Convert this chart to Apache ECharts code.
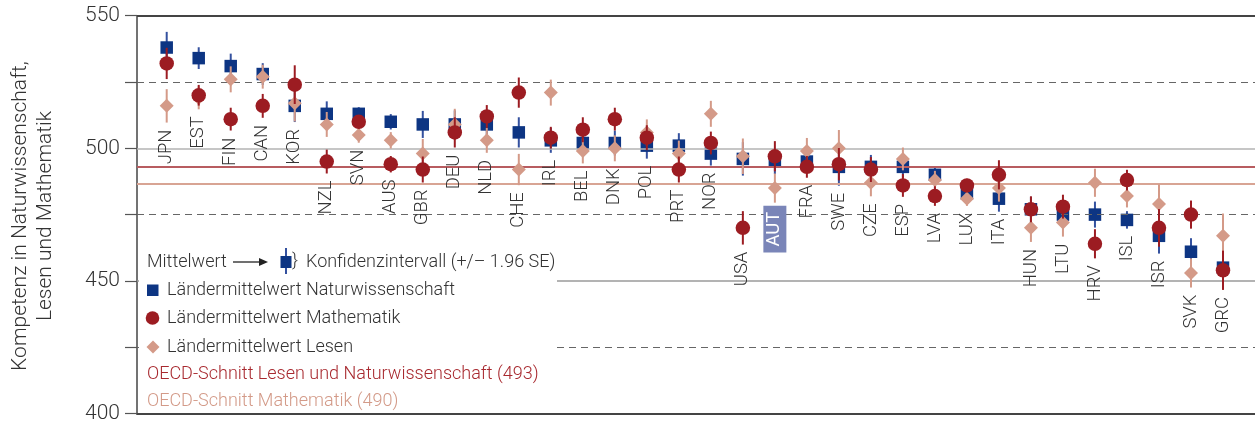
<!DOCTYPE html>
<html>
<head>
<meta charset="utf-8">
<script src="https://cdn.jsdelivr.net/npm/echarts@6/dist/echarts.min.js"></script>
<style>
html,body{margin:0;padding:0;background:#fff;}
#chart{width:1255px;height:424px;}
</style>
</head>
<body>
<div id="chart"></div>
<script>
// ---- data ----
const countries = ['JPN','EST','FIN','CAN','KOR','NZL','SVN','AUS','GBR','DEU','NLD','CHE','IRL','BEL','DNK','POL','PRT','NOR','USA','AUT','FRA','SWE','CZE','ESP','LVA','LUX','ITA','HUN','LTU','HRV','ISL','ISR','SVK','GRC'];
const highlightCountry = 'AUT';
const sciMean  = [538,534,531,528,516,513,513,510,509,509,509,506,503,502,502,501,501,498,496,495,495,493,493,493,490,483,481,477,475,475,473,467,461,455];
const sciCI    = [5.9,4.1,4.7,4.1,6.1,4.7,2.5,2.9,5.1,5.3,4.5,5.7,4.7,4.5,4.7,4.9,4.7,4.5,6.3,4.7,4.1,7.1,4.5,4.1,3.1,2.2,4.9,4.7,5.1,4.9,3.3,6.7,5.1,7.6];
const mathMean = [532,520,511,516,524,495,510,494,492,506,512,521,504,507,511,504,492,502,470,497,493,494,492,486,482,486,490,477,478,464,488,470,475,454];
const mathCI   = [5.9,3.9,4.3,4.5,7.3,4.5,2.5,3.1,4.9,5.7,4.3,5.7,4.1,4.7,4.3,4.7,4.9,4.3,6.3,5.7,4.1,6.1,4.7,4.3,3.7,2.5,5.5,4.9,4.5,5.5,3.9,7.1,5.3,7.4];
const readMean = [516,519,526,527,517,509,505,503,498,509,503,492,521,499,500,506,498,513,497,485,499,500,487,496,488,481,485,470,472,487,482,479,453,467];
const readCI   = [6.3,4.3,4.9,4.5,6.9,4.7,2.9,3.1,5.5,5.9,4.7,5.9,4.9,4.7,4.9,4.9,4.9,4.9,6.7,5.5,4.9,6.9,5.1,4.3,3.5,2.7,5.1,5.3,5.3,5.3,4.3,7.4,5.5,8.4];
const oecdSciRead = 493;
const oecdMathLinePos = 486.5;
const yTicks = [400,450,500,550];
const legendTexts = {
  mean: 'Mittelwert',
  ci: 'Konfidenzintervall (+/– 1.96 SE)',
  sci: 'Ländermittelwert Naturwissenschaft',
  math: 'Ländermittelwert Mathematik',
  read: 'Ländermittelwert Lesen',
  oecd1: 'OECD-Schnitt Lesen und Naturwissenschaft (493)',
  oecd2: 'OECD-Schnitt Mathematik (490)'
};
const yTitle = 'Kompetenz in Naturwissenschaft,\nLesen und Mathematik';

// ---- style ----
const FONT = 'Roboto';
const FW = 300;
const C_SCI = '#0d3583', C_SCI_BAR = '#34519f';
const C_MATH = '#9c1c22';
const C_READ = '#d49a88';
const C_OECD1 = '#b85c60', C_OECD2 = '#d8a494';
const TXT = '#333';

const chart = echarts.init(document.getElementById('chart'), null, {renderer:'canvas'});

function barSeries(name, means, cis, color, z) {
  return {
    type: 'custom', name: name, z: z, silent: true,
    encode: {x: 0, y: 1},
    data: means.map((v, i) => [i, v, cis[i]]),
    renderItem: function (params, api) {
      const i = api.value(0), v = api.value(1), c = api.value(2);
      const p1 = api.coord([i, v - c]), p2 = api.coord([i, v + c]);
      return {type: 'line', shape: {x1: p1[0], y1: p1[1], x2: p2[0], y2: p2[1]},
              style: {stroke: color, lineWidth: 2}};
    }
  };
}
function markerSeries(name, means, symbol, size, color, z) {
  return {
    type: 'scatter', name: name, z: z, silent: true,
    symbol: symbol, symbolSize: size,
    itemStyle: {color: color, opacity: 1},
    data: means.map((v, i) => [i, v])
  };
}

const lowest = countries.map((c, i) => Math.min(sciMean[i] - sciCI[i], mathMean[i] - mathCI[i], readMean[i] - readCI[i]));

const labelSeries = {
  type: 'scatter', name: 'labels', z: 20, silent: true,
  symbol: 'rect', symbolSize: 1,
  itemStyle: {color: 'rgba(255,255,255,0)', opacity: 1},
  label: {
    show: true, position: 'bottom', distance: 6.5, rotate: 90,
    align: 'right', verticalAlign: 'middle',
    fontFamily: FONT, fontWeight: FW, fontSize: 18.5, color: TXT,
    formatter: p => countries[p.dataIndex]
  },
  labelLayout: {hideOverlap: false},
  data: countries.map((c, i) => {
    const item = {value: [i, lowest[i]]};
    if (c === highlightCountry) {
      item.label = {backgroundColor: '#7a85b8', color: '#fff', fontWeight: 400, padding: [2, 6], distance: 2.5};
    }
    return item;
  })
};

const gridSeries = {
  type: 'line', name: 'grid', z: 1, data: [], silent: true,
  markLine: {
    silent: true, symbol: 'none', animation: false,
    label: {show: false},
    data: [
      {yAxis: 550, lineStyle: {color: '#444', width: 2, type: 'solid'}},
      {yAxis: 525, lineStyle: {color: '#666', width: 1.2, type: [7, 5]}},
      {yAxis: 500, lineStyle: {color: '#b3b3b3', width: 1.6, type: 'solid'}},
      {yAxis: 475, lineStyle: {color: '#666', width: 1.2, type: [7, 5]}},
      {yAxis: 450, lineStyle: {color: '#9a9a9a', width: 1.6, type: 'solid'}},
      {yAxis: 425, lineStyle: {color: '#666', width: 1.2, type: [7, 5]}},
      {yAxis: oecdSciRead, lineStyle: {color: C_OECD1, width: 2, type: 'solid'}},
      {yAxis: oecdMathLinePos, lineStyle: {color: C_OECD2, width: 2, type: 'solid'}}
    ]
  }
};

// legend graphics
const LX = 147, LZ = 100;
const tstyle = (t, color) => ({text: t, fill: color || TXT, fontFamily: FONT, fontWeight: FW, fontSize: 18, verticalAlign: 'middle', align: 'left'});
const graphics = [
  {type: 'rect', z: LZ, shape: {x: 139, y: 230, width: 418, height: 183}, style: {fill: '#fff'}},
  {type: 'text', z: LZ + 1, x: LX, y: 262, style: tstyle(legendTexts.mean)},
  {type: 'line', z: LZ + 1, shape: {x1: 233, y1: 262, x2: 262, y2: 262}, style: {stroke: '#222', lineWidth: 1.3}},
  {type: 'polygon', z: LZ + 1, shape: {points: [[259, 258], [268, 262], [259, 266]]}, style: {fill: '#222'}},
  {type: 'line', z: LZ + 1, shape: {x1: 286, y1: 248, x2: 286, y2: 274}, style: {stroke: C_SCI_BAR, lineWidth: 2}},
  {type: 'rect', z: LZ + 2, shape: {x: 280.5, y: 256, width: 11, height: 12}, style: {fill: C_SCI}},
  {type: 'text', z: LZ + 1, x: 292, y: 261, style: tstyle('}')},
  {type: 'text', z: LZ + 1, x: 306, y: 262, style: tstyle(legendTexts.ci)},
  {type: 'rect', z: LZ + 1, shape: {x: 147, y: 284.5, width: 11.5, height: 11.5}, style: {fill: C_SCI}},
  {type: 'text', z: LZ + 1, x: 167, y: 290, style: tstyle(legendTexts.sci)},
  {type: 'circle', z: LZ + 1, shape: {cx: 152.5, cy: 318, r: 6.8}, style: {fill: C_MATH}},
  {type: 'text', z: LZ + 1, x: 167, y: 318, style: tstyle(legendTexts.math)},
  {type: 'polygon', z: LZ + 1, shape: {points: [[153, 340.5], [159.5, 347], [153, 353.5], [146.5, 347]]}, style: {fill: C_READ}},
  {type: 'text', z: LZ + 1, x: 167, y: 347, style: tstyle(legendTexts.read)},
  {type: 'text', z: LZ + 1, x: LX, y: 374, style: tstyle(legendTexts.oecd1, '#a8292f')},
  {type: 'text', z: LZ + 1, x: LX, y: 401, style: tstyle(legendTexts.oecd2, '#d39a88')},
  {type: 'text', z: LZ + 1, x: 33, y: 216, rotation: Math.PI / 2,
   style: {text: yTitle, fill: TXT, fontFamily: FONT, fontWeight: FW, fontSize: 21, lineHeight: 25, align: 'center', verticalAlign: 'middle'}}
];

const option = {
  animation: false,
  grid: {left: 137, right: 0, top: 15.7, bottom: 424 - 414.7, containLabel: false},
  xAxis: {
    type: 'value', min: -0.928, max: 34.0,
    axisLine: {show: true, onZero: false, lineStyle: {color: '#444', width: 2}},
    axisTick: {show: false}, axisLabel: {show: false}, splitLine: {show: false}
  },
  yAxis: {
    type: 'value', min: 400, max: 550, interval: 25,
    axisLine: {show: true, onZero: false, lineStyle: {color: '#444', width: 1.5}},
    axisTick: {show: true, length: 12, lineStyle: {color: '#555', width: 1.2}},
    axisLabel: {
      margin: 17, color: TXT, fontFamily: FONT, fontWeight: FW, fontSize: 21,
      formatter: v => yTicks.indexOf(v) >= 0 ? String(v) : ''
    },
    splitLine: {show: false}
  },
  graphic: graphics,
  series: [
    gridSeries,
    barSeries('sciBar', sciMean, sciCI, C_SCI_BAR, 3),
    markerSeries('Naturwissenschaft', sciMean, 'rect', 12.5, C_SCI, 4),
    barSeries('readBar', readMean, readCI, C_READ, 5),
    markerSeries('Lesen', readMean, 'diamond', 14, C_READ, 6),
    barSeries('mathBar', mathMean, mathCI, C_MATH, 7),
    markerSeries('Mathematik', mathMean, 'circle', 14.5, C_MATH, 8),
    labelSeries
  ]
};
chart.setOption(option);
</script>
</body>
</html>
